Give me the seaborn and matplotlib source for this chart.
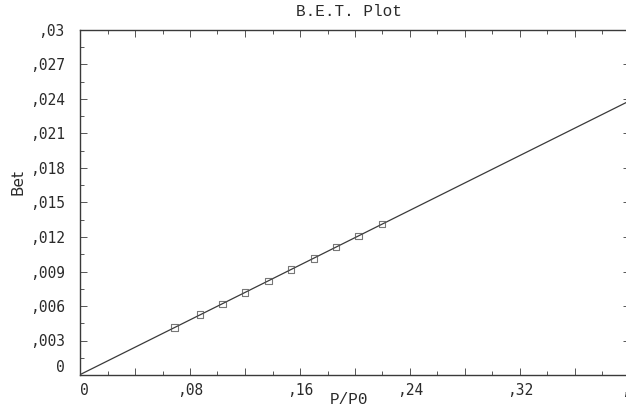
import numpy as np
import pandas as pd
import matplotlib
matplotlib.use("Agg")
import matplotlib.pyplot as plt
from matplotlib.ticker import FixedLocator, MultipleLocator
import seaborn as sns

# Relative pressure and BET transform values
p_p0 = [0.0686, 0.0873, 0.1036, 0.1201, 0.1370, 0.1536, 0.1703, 0.1863, 0.2025, 0.2196]
bet = [0.00414, 0.00526, 0.00617, 0.00719, 0.00817, 0.00916, 0.01015, 0.01112, 0.01210, 0.01315]

x_ticks = [0, 0.08, 0.16, 0.24, 0.32, 0.40]
x_tick_labels = ["0", ",08", ",16", ",24", ",32", ",4"]
y_ticks = [0, 0.003, 0.006, 0.009, 0.012, 0.015, 0.018, 0.021, 0.024, 0.027, 0.03]
y_tick_labels = ["0", ",003", ",006", ",009", ",012", ",015", ",018", ",021",
                 ",024", ",027", ",03"]

df = pd.DataFrame({"P/P0": p_p0, "Bet": bet})

sns.set_style("ticks")
plt.rcParams["font.family"] = ["DejaVu Sans"]

W, H = 626, 418
fig = plt.figure(figsize=(W / 100, H / 100), dpi=100)
ax = fig.add_axes([80 / W, 1 - 375 / H, 550 / W, 345 / H])

ax.set_xlim(0, 0.4)
ax.set_ylim(0, 0.03)

# Points with a least-squares line extended across the whole axis
sns.regplot(
    data=df, x="P/P0", y="Bet", ax=ax, ci=None, truncate=False,
    marker="s",
    scatter_kws=dict(s=22, facecolors="none", edgecolors="#555555", linewidths=0.8, zorder=3),
    line_kws=dict(color="#3a3a3a", lw=0.9, zorder=2),
)
ax.set_xlim(0, 0.4)
ax.set_ylim(0, 0.03)

ink = "#2a2a2a"
for s in ax.spines.values():
    s.set_visible(True)
    s.set_color("#3a3a3a")
    s.set_linewidth(1.0)

ax.xaxis.set_minor_locator(MultipleLocator(0.02))
ax.yaxis.set_minor_locator(MultipleLocator(0.0015))

xt = [round(v, 2) for v in np.arange(0, 0.4001, 0.04)]
ax.set_xticks(xt)
lbl_map = dict(zip([round(v, 2) for v in x_ticks], x_tick_labels))
ax.set_xticklabels([lbl_map.get(v, "") for v in xt])
ax.set_yticks(y_ticks)
ax.set_yticklabels(y_tick_labels)

ax.tick_params(which="both", direction="in", top=True, right=True, color="#555555", width=0.7)
ax.tick_params(which="major", length=5)
ax.tick_params(which="minor", length=3)
ax.tick_params(axis="x", pad=6)
ax.tick_params(axis="y", pad=11)

for t in ax.get_xticklabels() + ax.get_yticklabels():
    t.set_fontfamily("DejaVu Sans Mono")
    t.set_fontsize(10.5)
    t.set_color(ink)

# Keep the two zero labels clear of the corner
ax.get_xticklabels()[0].set_horizontalalignment("left")
ax.get_yticklabels()[0].set_verticalalignment("bottom")

ax.set_xlabel("")
ax.set_ylabel("")
fig.text(349 / W, 1 - 12 / H, "B.E.T. Plot", family="Liberation Mono", fontsize=11.5,
         color=ink, ha="center", va="center")
fig.text(349 / W, 1 - 400 / H, "P/P0", family="Liberation Mono", fontsize=11.5,
         color=ink, ha="center", va="center")
fig.text(18 / W, 1 - 182 / H, "Bet", family="DejaVu Sans", fontsize=11,
         color=ink, ha="center", va="center", rotation=90)

fig.savefig("out.png", dpi=100, facecolor="white")
